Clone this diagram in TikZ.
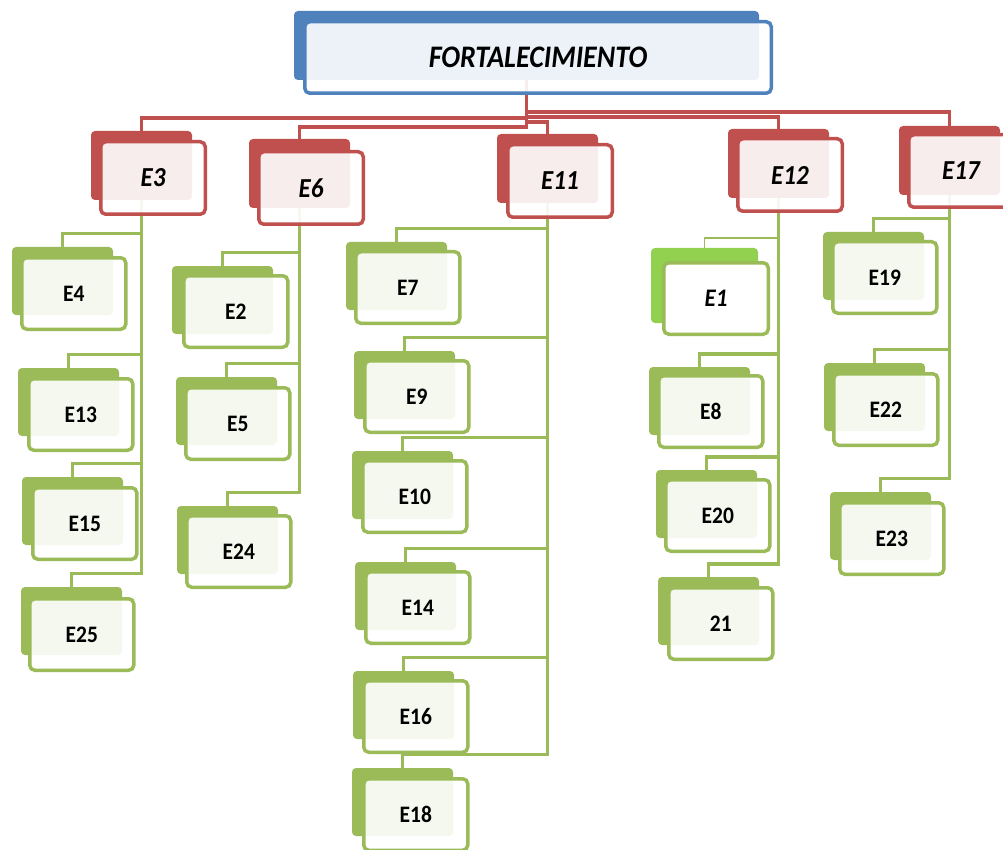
\documentclass[tikz,border=0pt]{standalone}
\usepackage{fontspec}
\setmainfont{Carlito}
\usetikzlibrary{backgrounds}
\definecolor{gcol}{HTML}{9BBB59}
\definecolor{rcol}{HTML}{C0504D}
\definecolor{bcol}{HTML}{4F81BD}
\definecolor{lgcol}{HTML}{92D050}
\tikzset{
  backbox/.style={anchor=north west, inner sep=0pt, outer sep=0pt, rounded corners=4pt},
  frontbox/.style={anchor=north west, inner sep=0pt, outer sep=0pt, rounded corners=5pt,
    line width=3.5pt, fill=white, fill opacity=0.9, text opacity=1, text=black},
  gback/.style={backbox, fill=gcol, minimum width=101pt, minimum height=68pt},
  gfront/.style={frontbox, draw=gcol, minimum width=104pt, minimum height=71.5pt,
    font=\bfseries\fontsize{21.5}{24}\selectfont},
  rback/.style={backbox, fill=rcol, minimum width=101pt, minimum height=69pt},
  rfront/.style={frontbox, draw=rcol, minimum width=104.5pt, minimum height=72.5pt,
    font=\bfseries\itshape\fontsize{25}{28}\selectfont},
  gline/.style={draw=gcol, line width=3.5pt},
  rline/.style={draw=rcol, line width=3.5pt},
}
\newcommand\gbx[6]{%
  \node[gback] (#1b) at (#2,#3) {};
  \node[gfront] (#1) at (#4+1.75,#5+1.75) {\scalebox{1}[1.1]{#6}};}
\newcommand\rbx[6]{%
  \node[rback] (#1b) at (#2,#3) {};
  \node[rfront] (#1) at (#4+1.75,#5+1.75) {\scalebox{1}[1.1]{#6}};}
\begin{document}
\begin{tikzpicture}[x=1pt,y=-1pt]
\useasboundingbox (0,0) rectangle (1003,850);
% top
\node[backbox, fill=bcol, minimum width=465pt, minimum height=69pt] (Topb) at (294,11) {};
\node[frontbox, draw=bcol, minimum width=466.5pt, minimum height=71.5pt,
  font=\bfseries\itshape\fontsize{28}{32}\selectfont] (Top) at (304.75,21.75)
  {\scalebox{1}[1.12]{FORTALECIMIENTO}};
% level 1
\rbx{E3}{91}{131}{99}{140}{E3}
\rbx{E6}{249}{139}{257}{150}{E6}
\rbx{E11}{497}{134}{506}{143}{E11}
\rbx{E12}{728}{129}{736}{137}{E12}
\rbx{E17}{899}{126}{907}{133}{E17}
% children of E3
\gbx{E4}{12}{247}{20}{256}{E4}
\gbx{E13}{18}{368}{27}{377}{E13}
\gbx{E15}{22}{477}{31}{486}{E15}
\gbx{E25}{21}{587}{28}{597}{E25}
% children of E6
\gbx{E2}{172}{266}{182}{274}{E2}
\gbx{E5}{176}{377}{184}{386}{E5}
\gbx{E24}{177}{506}{185}{514}{E24}
% children of E11
\gbx{E7}{346}{242}{354}{250}{E7}
\gbx{E9}{354}{351}{363}{359}{E9}
\gbx{E10}{352}{451}{361}{459}{E10}
\gbx{E14}{355}{562}{364}{570}{E14}
\gbx{E16}{353}{671}{362}{679}{E16}
\gbx{E18}{352}{768}{362}{777}{E18}
% children of E12
\node[backbox, fill=lgcol, minimum width=107pt, minimum height=75pt] (E1b) at (651,248) {};
\node[frontbox, draw=gcol, fill opacity=1, minimum width=104.5pt, minimum height=71.5pt,
  font=\bfseries\itshape\fontsize{23}{26}\selectfont] (E1) at (663.75,262.75) {\scalebox{1}[1.1]{E1}};
\gbx{E8}{649}{367}{657}{374}{E8}
\gbx{E20}{656}{470}{664}{478}{E20}
\gbx{E21}{658}{577}{667}{586}{21}
% children of E17
\gbx{E19}{823}{232}{831}{240}{E19}
\gbx{E22}{824}{363}{832}{372}{E22}
\gbx{E23}{830}{492}{838}{501}{E23}
% connectors
\begin{scope}[on background layer]
\fill[white] (0,0) rectangle (1003,850);
\draw[rline] (E17b.north) -- ++(0,-14) -| (Topb.south);
\draw[rline] (E12b.north) -- ++(0,-12) -| (Topb.south);
\draw[rline] (E3b.north) -- ++(0,-13) -| (Topb.south);
\draw[rline] (E11b.north) -- ++(0,-12) -| (Topb.south);
\draw[rline] (E6b.north) -- ++(0,-12) -| (Topb.south);
\foreach \c in {E4,E13,E15,E25} \draw[gline] (\c b.north) -- ++(0,-13.5) -| (E3b.south);
\foreach \c in {E2,E5,E24} \draw[gline] (\c b.north) -- ++(0,-13.5) -| (E6b.south);
\foreach \c in {E7,E9,E10,E14,E16,E18} \draw[gline] (\c b.north) -- ++(0,-13.5) -| (E11b.south);
\draw[gcol, line width=1.8pt] (E1b.north) -- ++(0,-10) -| (E12b.south);
\foreach \c in {E8,E20,E21} \draw[gline] (\c b.north) -- ++(0,-13) -| (E12b.south);
\foreach \c in {E19,E22,E23} \draw[gline] (\c b.north) -- ++(0,-13.5) -| (E17b.south);
\end{scope}
\end{tikzpicture}
\end{document}
